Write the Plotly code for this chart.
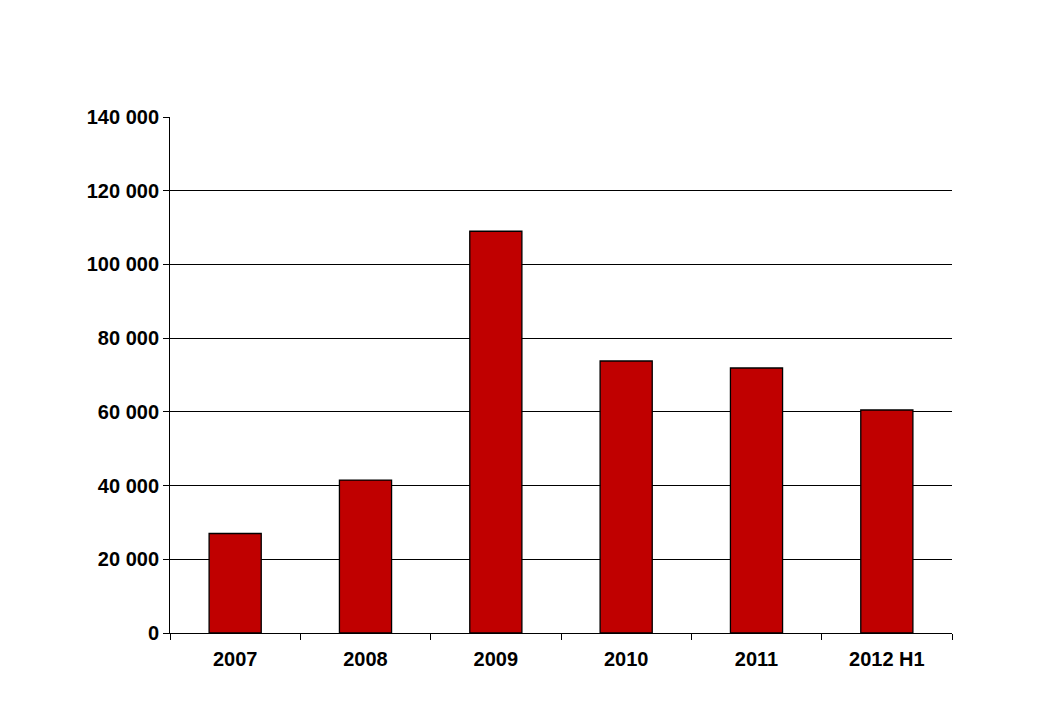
import plotly.graph_objects as go

# === Data ===
years = ["2007", "2008", "2009", "2010", "2011", "2012 H1"]
values = [27000, 41500, 109000, 73800, 71900, 60500]

fig = go.Figure()
fig.add_trace(go.Bar(
    x=years,
    y=values,
    width=0.4,
    marker=dict(color="#C00000", line=dict(color="black", width=1.3)),
))

tick_font = dict(size=20, family="Liberation Sans, Arial", weight="bold", color="black")

fig.update_layout(
    width=1050, height=719,
    margin=dict(l=162, r=106, t=109, b=94),
    plot_bgcolor="white", paper_bgcolor="white",
    separators=". ",
    font=dict(family="Liberation Sans, Arial", size=20, color="black"),
    showlegend=False,
)
fig.update_xaxes(
    showline=True, linecolor="black", linewidth=1,
    ticks="outside", tickson="boundaries", ticklen=6, tickcolor="black",
    tickfont=tick_font,
    ticklabelstandoff=8,
)
fig.update_yaxes(
    range=[0, 140000], dtick=20000, tickformat=",d",
    showline=True, linecolor="black", linewidth=1,
    showgrid=True, gridcolor="black", gridwidth=1,
    ticks="outside", ticklen=6, tickcolor="black",
    zeroline=False,
    tickfont=tick_font,
)

fig.write_html("out.html")
